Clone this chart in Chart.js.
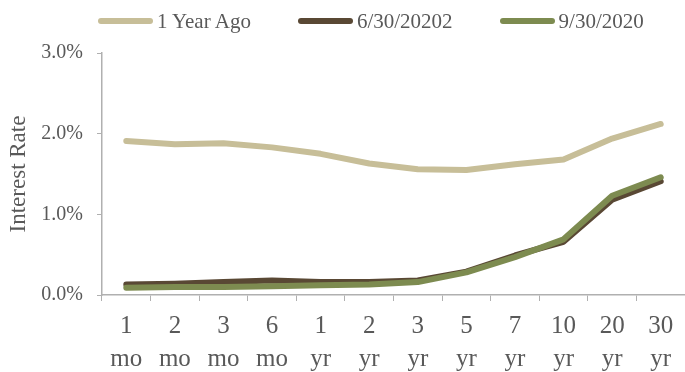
<!DOCTYPE html>
<html>
<head>
<meta charset="utf-8">
<script src="https://cdn.jsdelivr.net/npm/chart.js@4"></script>
<style>
    html, body { margin: 0; padding: 0; background: #fff; }
    #wrap { position: relative; width: 685px; height: 372px; }
    #legend {
        position: absolute; top: 8px; left: 98px;
        display: flex; align-items: center; height: 26px;
        font-family: "Liberation Serif", "Times New Roman", serif;
        font-size: 21px; color: #595959; white-space: nowrap;
    }
    .legend-item { display: flex; align-items: center; margin-right: 47px; }
    .legend-line { width: 55px; height: 6px; border-radius: 3px; margin-right: 4px; }
</style>
</head>
<body>
<div id="wrap">
    <canvas id="yieldChart" width="685" height="372"></canvas>
    <div id="legend"></div>
</div>
<script>
// --- DATA ---
const maturities = [['1', 'mo'], ['2', 'mo'], ['3', 'mo'], ['6', 'mo'], ['1', 'yr'], ['2', 'yr'],
                    ['3', 'yr'], ['5', 'yr'], ['7', 'yr'], ['10', 'yr'], ['20', 'yr'], ['30', 'yr']];
const seriesNames = ['1 Year Ago', '6/30/20202', '9/30/2020'];
const yearAgo   = [1.91, 1.87, 1.88, 1.83, 1.75, 1.63, 1.56, 1.55, 1.62, 1.68, 1.94, 2.12];
const june2020  = [0.13, 0.14, 0.16, 0.18, 0.16, 0.16, 0.18, 0.29, 0.49, 0.66, 1.18, 1.41];
const sept2020  = [0.09, 0.10, 0.10, 0.11, 0.12, 0.13, 0.16, 0.28, 0.47, 0.69, 1.23, 1.46];
const yTicks    = [0, 1, 2, 3];

// --- STYLE ---
const colors = ['#C7BE98', '#594834', '#7D8B50'];
const textColor = '#595959';
const axisColor = '#B0B0B0';
const serif = '"Liberation Serif", "Times New Roman", serif';

function makeDataset(i, values, order) {
    return {
        label: seriesNames[i],
        data: values,
        borderColor: colors[i],
        backgroundColor: colors[i],
        borderWidth: 6,
        borderCapStyle: 'round',
        borderJoinStyle: 'round',
        pointRadius: 0,
        tension: 0,
        order: order
    };
}

const chart = new Chart(document.getElementById('yieldChart'), {
    type: 'line',
    data: {
        labels: maturities,
        datasets: [
            makeDataset(0, yearAgo, 2),
            makeDataset(1, june2020, 1),
            makeDataset(2, sept2020, 0)
        ]
    },
    options: {
        responsive: false,
        animation: false,
        layout: { padding: { top: 53, right: 0, bottom: 0, left: 0 } },
        plugins: {
            legend: { display: false },
            tooltip: { enabled: false }
        },
        scales: {
            x: {
                offset: true,
                afterFit: (scale) => { scale.height = 77; },
                grid: { offset: true, drawOnChartArea: false, color: axisColor, tickLength: 6 },
                border: { color: axisColor, width: 1.5 },
                ticks: {
                    color: textColor, padding: 9, maxRotation: 0, autoSkip: false,
                    font: { family: serif, size: 25, lineHeight: 1.32 }
                }
            },
            y: {
                min: 0, max: 3,
                afterBuildTicks: (scale) => { scale.ticks = yTicks.map(v => ({ value: v })); },
                afterFit: (scale) => { scale.width = 102; },
                grid: { drawOnChartArea: false, color: axisColor, tickLength: 5 },
                border: { color: axisColor, width: 1.5 },
                ticks: {
                    color: textColor, padding: 14,
                    font: { family: serif, size: 20 },
                    callback: (v) => v.toFixed(1) + '%'
                },
                title: {
                    display: true, text: 'Interest Rate', color: textColor,
                    padding: { top: 5, bottom: 0 },
                    font: { family: serif, size: 23 }
                }
            }
        }
    }
});

// --- HTML LEGEND ---
document.getElementById('legend').innerHTML = chart.data.datasets.map(ds => `
    <div class="legend-item">
        <span class="legend-line" style="background:${ds.borderColor}"></span>
        <span>${ds.label}</span>
    </div>
`).join('');
</script>
</body>
</html>
